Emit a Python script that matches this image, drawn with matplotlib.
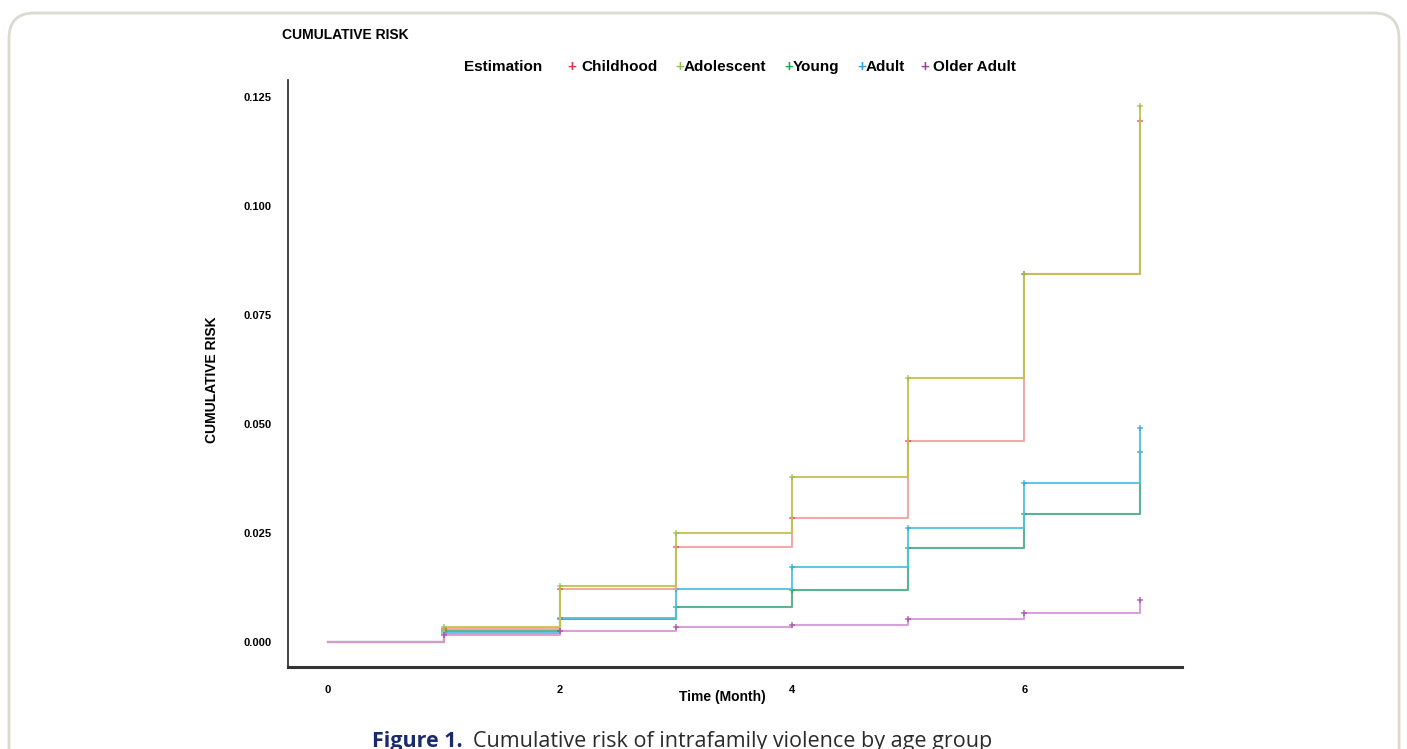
import matplotlib
matplotlib.use("Agg")
import matplotlib.pyplot as plt
from matplotlib.patches import FancyBboxPatch

months = [0, 1, 2, 3, 4, 5, 6, 7]
childhood = [0.0, 0.0030, 0.0122, 0.0218, 0.0284, 0.0461, 0.0844, 0.1195]
adolescent = [0.0, 0.0034, 0.0128, 0.0250, 0.0378, 0.0606, 0.0844, 0.1229]
young = [0.0, 0.0025, 0.0052, 0.0080, 0.0119, 0.0216, 0.0294, 0.0436]
adult = [0.0, 0.0020, 0.0055, 0.0122, 0.0172, 0.0262, 0.0365, 0.0490]
older_adult = [0.0, 0.0016, 0.0025, 0.0034, 0.0039, 0.0053, 0.0067, 0.0096]

series_names = ["Childhood", "Adolescent", "Young", "Adult", "Older Adult"]
line_colors = ["#f0a0a0", "#c2c150", "#4aac86", "#52c0e2", "#d597d9"]
legend_colors = ["#e8334a", "#8cc34a", "#1fa84a", "#2ba5e0", "#a040a0"]
x_ticks = [0, 2, 4, 6]
y_ticks = [0.000, 0.025, 0.050, 0.075, 0.100, 0.125]

W, H = 1407, 749
NARROW = ["Liberation Sans Narrow", "Liberation Sans", "DejaVu Sans"]
CAPTION = ["Open Sans", "DejaVu Sans"]


def fx(px):
    return px / W


def fy(py):
    return 1 - py / H


fig = plt.figure(figsize=(W / 100, H / 100), dpi=100)

# rounded frame round the figure card
frame = FancyBboxPatch(
    (fx(9), fy(800)), fx(1390), fy(13) - fy(800),
    boxstyle="round,pad=0,rounding_size=0.018",
    transform=fig.transFigure, facecolor="none", edgecolor="#dcd9cf",
    linewidth=2.0, mutation_aspect=W / H, zorder=-1,
)
fig.patches.append(frame)

ax = fig.add_axes([fx(288), fy(667), fx(1182) - fx(288), fy(80) - fy(667)])
ax.set_facecolor("none")

all_series = [childhood, adolescent, young, adult, older_adult]
# draw back to front: adolescent over the others, older adult last
order = [2, 3, 0, 1, 4]
for rank, i in enumerate(order):
    values = all_series[i]
    ax.step(months, values, where="post", color=line_colors[i], linewidth=1.5,
            alpha=0.9, zorder=2 + rank)
    ax.plot(months[1:], values[1:], linestyle="none", marker="+", markersize=4,
            markeredgewidth=1.2, color=legend_colors[i], alpha=0.7,
            zorder=2 + rank)

ax.set_xlim(-0.345, 7.36)
ax.set_ylim(-0.00573, 0.1289)
ax.set_xticks(x_ticks)
ax.set_yticks(y_ticks)
ax.set_xticklabels([str(t) for t in x_ticks], fontsize=8, fontweight="bold", family=NARROW)
ax.set_yticklabels([f"{v:.3f}" for v in y_ticks], fontsize=8, fontweight="bold", family=NARROW)
ax.tick_params(axis="x", length=0, pad=13)
ax.tick_params(axis="y", length=0, pad=12)

for side in ("top", "right"):
    ax.spines[side].set_visible(False)
ax.spines["left"].set_color("#333333")
ax.spines["left"].set_linewidth(1.3)
ax.spines["bottom"].set_color("#333333")
ax.spines["bottom"].set_linewidth(2.2)

fig.text(fx(722), fy(697), "Time (Month)", ha="center", va="center",
         fontsize=10, fontweight="bold", family=NARROW)
fig.text(fx(212), fy(380), "CUMULATIVE RISK", ha="center", va="center",
         rotation=90, fontsize=10, fontweight="bold", family=NARROW)
fig.text(fx(282), fy(35), "CUMULATIVE RISK", ha="left", va="center",
         fontsize=10, fontweight="bold", family=NARROW)

# legend row drawn as text
fig.text(fx(464), fy(67), "Estimation", ha="left", va="center",
         fontsize=11, fontweight="bold", family=NARROW)
plus_x = [567, 675, 784, 857, 920]
name_x = [581, 684, 793, 866, 933]
for name, color, px, nx in zip(series_names, legend_colors, plus_x, name_x):
    fig.text(fx(px), fy(67), "+", ha="left", va="center", fontsize=11,
             fontweight="bold", color=color, family=NARROW)
    fig.text(fx(nx), fy(67), name, ha="left", va="center", fontsize=11,
             fontweight="bold", family=NARROW)

# caption, cut by the bottom edge like the source
fig.text(fx(372), fy(731), "Figure 1.", ha="left", va="top",
         fontsize=15.5, fontweight="bold", color="#1c2a6b", family=CAPTION)
fig.text(fx(473), fy(731), "Cumulative risk of intrafamily violence by age group",
         ha="left", va="top", fontsize=15.5, color="#2b2b2b", family=CAPTION)

fig.savefig("out.png", dpi=100)
